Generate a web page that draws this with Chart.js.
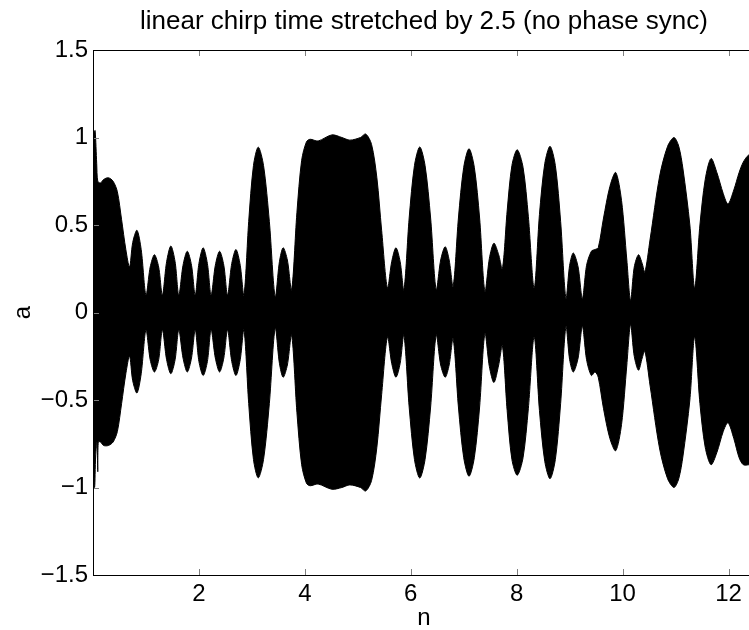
<!DOCTYPE html>
<html>
<head>
<meta charset="utf-8">
<script src="https://cdn.jsdelivr.net/npm/chart.js@4.4.1/dist/chart.umd.min.js"></script>
<style>
  html, body { margin: 0; padding: 0; background: #fff; overflow: hidden; }
  #wrap { width: 770px; height: 630px; }
</style>
</head>
<body>
<div id="wrap"><canvas id="chart" width="770" height="630"></canvas></div>
<script>
const chartTitle = 'linear chirp time stretched by 2.5 (no phase sync)';
const xTicks = [2, 4, 6, 8, 10, 12];
const yTicks = [-1.5, -1, -0.5, 0, 0.5, 1, 1.5];

// upper envelope of the chirp (n, a)
const upperN = [0.00, 0.02, 0.04, 0.07, 0.09, 0.14, 0.20, 0.29, 0.38, 0.46, 0.54, 0.62, 0.69,
  0.75, 0.83, 0.91, 1.00, 1.08, 1.16, 1.24, 1.31, 1.39, 1.47, 1.55, 1.62, 1.70, 1.78, 1.86, 1.93,
  2.00, 2.08, 2.16, 2.23, 2.31, 2.39, 2.47, 2.54, 2.62, 2.70, 2.78, 2.85,
  2.94, 3.03, 3.12, 3.22, 3.33, 3.44, 3.52, 3.59, 3.67, 3.75,
  3.85, 3.94, 4.03, 4.10, 4.25, 4.51, 4.70, 4.85, 5.05, 5.15, 5.26, 5.36, 5.45, 5.56,
  5.64, 5.72, 5.80, 5.87, 5.97, 6.07, 6.17, 6.27, 6.375, 6.48, 6.565, 6.65, 6.725, 6.80,
  6.90, 7.00, 7.10, 7.20, 7.30, 7.40, 7.485, 7.57, 7.66, 7.73,
  7.82, 7.91, 8.01, 8.12, 8.22, 8.33, 8.43, 8.53, 8.63, 8.73, 8.83, 8.93,
  9.00, 9.07, 9.16, 9.24, 9.32, 9.41, 9.48, 9.54, 9.64, 9.76, 9.87, 9.98, 10.08, 10.15,
  10.22, 10.30, 10.37, 10.42, 10.52, 10.70, 10.85, 10.97, 11.06, 11.14, 11.27, 11.36,
  11.46, 11.56, 11.67, 11.78, 11.90, 11.99, 12.10, 12.20, 12.28, 12.38, 12.50];
const upperA = [0.80, 1.03, 1.04, 0.85, 0.75, 0.74, 0.76, 0.77, 0.75, 0.69, 0.53, 0.36, 0.26,
  0.40, 0.47, 0.36, 0.10, 0.26, 0.33, 0.26, 0.10, 0.29, 0.38, 0.29, 0.10, 0.27, 0.35, 0.27, 0.10,
  0.28, 0.37, 0.28, 0.10, 0.27, 0.35, 0.27, 0.10, 0.28, 0.36, 0.27, 0.10,
  0.52, 0.84, 0.945, 0.84, 0.52, 0.09, 0.29, 0.37, 0.30, 0.13,
  0.57, 0.87, 0.975, 0.99, 0.98, 1.015, 1.00, 0.985, 1.00, 1.02, 0.96, 0.77, 0.47, 0.14,
  0.29, 0.37, 0.29, 0.13, 0.54, 0.84, 0.946, 0.84, 0.54, 0.13, 0.30, 0.376, 0.30, 0.15,
  0.54, 0.83, 0.936, 0.83, 0.54, 0.12, 0.31, 0.396, 0.33, 0.25,
  0.58, 0.84, 0.93, 0.83, 0.55, 0.14, 0.56, 0.85, 0.95, 0.84, 0.52, 0.08,
  0.27, 0.34, 0.26, 0.08, 0.27, 0.35, 0.36, 0.37, 0.54, 0.72, 0.80, 0.64, 0.30, 0.07,
  0.26, 0.33, 0.28, 0.23, 0.42, 0.78, 0.95, 1.00, 0.95, 0.82, 0.50, 0.14,
  0.50, 0.76, 0.88, 0.80, 0.68, 0.62, 0.70, 0.80, 0.86, 0.90, 0.91];

// lower envelope (n, a)
const lowerN = [0.00, 0.03, 0.05, 0.075, 0.09, 0.10, 0.14, 0.20, 0.29, 0.38, 0.46, 0.54, 0.62, 0.69,
  0.75, 0.83, 0.91, 1.00, 1.08, 1.16, 1.24, 1.31, 1.39, 1.47, 1.55, 1.62, 1.70, 1.78, 1.86, 1.93,
  2.00, 2.08, 2.16, 2.23, 2.31, 2.39, 2.47, 2.54, 2.62, 2.70, 2.78, 2.85,
  2.94, 3.03, 3.12, 3.22, 3.33, 3.44, 3.52, 3.59, 3.67, 3.75,
  3.85, 3.94, 4.03, 4.10, 4.25, 4.51, 4.70, 4.85, 5.05, 5.15, 5.26, 5.36, 5.45, 5.56,
  5.64, 5.72, 5.80, 5.87, 5.97, 6.07, 6.17, 6.27, 6.375, 6.48, 6.565, 6.65, 6.725, 6.80,
  6.90, 7.00, 7.10, 7.20, 7.30, 7.40, 7.485, 7.57, 7.66, 7.73,
  7.82, 7.91, 8.01, 8.12, 8.22, 8.33, 8.43, 8.53, 8.63, 8.73, 8.83, 8.93,
  9.00, 9.07, 9.16, 9.24, 9.32, 9.41, 9.48, 9.54, 9.64, 9.76, 9.87, 9.98, 10.08, 10.15,
  10.22, 10.30, 10.37, 10.42, 10.52, 10.70, 10.85, 10.97, 11.06, 11.14, 11.27, 11.36,
  11.46, 11.56, 11.67, 11.78, 11.90, 11.99, 12.10, 12.20, 12.28, 12.38, 12.50];
const lowerA = [-0.90, -1.00, -0.82, -0.74, -0.91, -0.74, -0.74, -0.76, -0.76, -0.74, -0.68, -0.52, -0.35, -0.25,
  -0.39, -0.46, -0.35, -0.10, -0.27, -0.34, -0.27, -0.10, -0.27, -0.35, -0.27, -0.10, -0.26, -0.34, -0.26, -0.10,
  -0.28, -0.36, -0.28, -0.10, -0.26, -0.34, -0.26, -0.10, -0.28, -0.36, -0.27, -0.10,
  -0.52, -0.84, -0.945, -0.84, -0.52, -0.09, -0.29, -0.37, -0.30, -0.13,
  -0.57, -0.87, -0.975, -0.99, -0.98, -1.01, -1.00, -0.985, -1.00, -1.02, -0.96, -0.77, -0.47, -0.14,
  -0.29, -0.37, -0.29, -0.13, -0.54, -0.84, -0.946, -0.84, -0.54, -0.13, -0.30, -0.37, -0.30, -0.15,
  -0.54, -0.83, -0.936, -0.83, -0.54, -0.12, -0.31, -0.40, -0.30, -0.19,
  -0.56, -0.84, -0.93, -0.83, -0.55, -0.14, -0.56, -0.85, -0.95, -0.84, -0.52, -0.08,
  -0.27, -0.34, -0.26, -0.08, -0.27, -0.36, -0.34, -0.37, -0.55, -0.72, -0.79, -0.64, -0.30, -0.07,
  -0.25, -0.33, -0.26, -0.22, -0.42, -0.78, -0.95, -1.00, -0.95, -0.82, -0.50, -0.14,
  -0.52, -0.77, -0.87, -0.80, -0.68, -0.63, -0.72, -0.83, -0.87, -0.87, -0.86];

const FONT = '"Liberation Sans", Arial, Helvetica, sans-serif';
const pts = (ns, as) => ns.map((n, i) => ({ x: n, y: as[i] }));
const minus = v => (v < 0 ? '\u2212' + Math.abs(v) : String(v));

// box + inward ticks + title centred over the axes, matlab style
const matlabAxes = {
  id: 'matlabAxes',
  afterDatasetsDraw(chart) {
    const { ctx, chartArea: a, scales: { x, y } } = chart;
    ctx.save();
    ctx.strokeStyle = '#7f7f7f';
    ctx.lineWidth = 1;
    ctx.beginPath();
    xTicks.forEach(v => {
      const px = Math.round(x.getPixelForValue(v)) + 0.5;
      ctx.moveTo(px, a.bottom); ctx.lineTo(px, a.bottom - 6);
      ctx.moveTo(px, a.top); ctx.lineTo(px, a.top + 6);
    });
    yTicks.forEach(v => {
      const py = Math.round(y.getPixelForValue(v)) + 0.5;
      ctx.moveTo(a.left, py); ctx.lineTo(a.left + 6, py);
      ctx.moveTo(a.right, py); ctx.lineTo(a.right - 6, py);
    });
    ctx.stroke();
    ctx.strokeStyle = '#000';
    ctx.strokeRect(Math.round(a.left) + 0.5, Math.round(a.top) + 0.5, Math.round(a.right - a.left), Math.round(a.bottom - a.top));

    ctx.fillStyle = '#000';
    ctx.font = '26px ' + FONT;
    ctx.textAlign = 'center';
    ctx.textBaseline = 'middle';
    ctx.fillText(chartTitle, (a.left + a.right) / 2, 22);
    ctx.restore();
  }
};

new Chart(document.getElementById('chart'), {
  type: 'line',
  data: {
    datasets: [
      { data: pts(upperN, upperA), fill: 1, borderColor: '#000', backgroundColor: '#000', borderWidth: 1, pointRadius: 0, tension: 0.3 },
      { data: pts(lowerN, lowerA), fill: false, borderColor: '#000', backgroundColor: '#000', borderWidth: 1, pointRadius: 0, tension: 0.3 }
    ]
  },
  options: {
    responsive: false,
    animation: false,
    layout: { padding: { left: 0, right: 15, top: 50, bottom: 0 } },
    plugins: {
      legend: { display: false },
      tooltip: { enabled: false },
      title: { display: false }
    },
    scales: {
      x: {
        type: 'linear', min: 0, max: 12.5,
        afterBuildTicks: s => { s.ticks = xTicks.map(v => ({ value: v })); },
        afterFit: s => { s.height = 55; },
        grid: { display: false, drawTicks: false },
        border: { display: false },
        ticks: { color: '#000', font: { family: FONT, size: 24 }, padding: 5, maxRotation: 0, autoSkip: false },
        title: { display: true, text: 'n', color: '#000', font: { family: FONT, size: 24 }, padding: { top: 0, bottom: -3 } }
      },
      y: {
        type: 'linear', min: -1.5, max: 1.5,
        afterBuildTicks: s => { s.ticks = yTicks.map(v => ({ value: v })); },
        afterFit: s => { s.width = 93; },
        grid: { display: false, drawTicks: false },
        border: { display: false },
        ticks: { color: '#000', font: { family: FONT, size: 24 }, padding: 5, callback: minus },
        title: { display: true, text: 'a', color: '#000', font: { family: FONT, size: 24 }, padding: { top: 9, bottom: 0 } }
      }
    }
  },
  plugins: [matlabAxes]
});
</script>
</body>
</html>
